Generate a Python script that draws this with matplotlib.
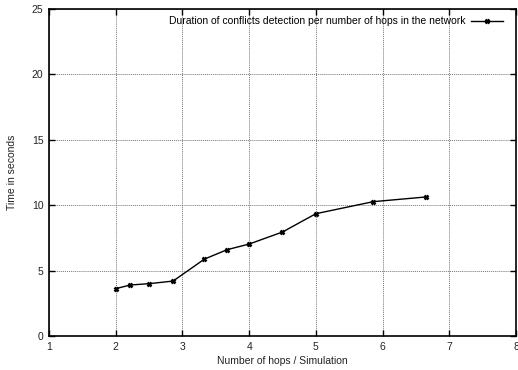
import matplotlib
matplotlib.use('Agg')
import matplotlib.pyplot as plt

# hops per simulation vs. conflict detection time
hops = [2.0, 2.22, 2.5, 2.86, 3.33, 3.67, 4.0, 4.5, 5.0, 5.86, 6.65]
seconds = [3.62, 3.9, 4.0, 4.2, 5.88, 6.6, 7.03, 7.95, 9.35, 10.27, 10.63]

xticks = [1, 2, 3, 4, 5, 6, 7, 8]
yticks = [0, 5, 10, 15, 20, 25]

plt.rcParams['font.family'] = ['Liberation Sans', 'DejaVu Sans']
plt.rcParams['font.size'] = 7.5

fig = plt.figure(figsize=(5.18, 3.70), dpi=100)
ax = fig.add_axes([49 / 518, 34 / 370, 467 / 518, 327 / 370])

ax.plot(hops, seconds, color='black', lw=1.0, marker='x', ms=3.5, mew=1.8,
        label='Duration of conflicts detection per number of hops in the network')

ax.set_xlim(1, 8)
ax.set_ylim(0, 25)
ax.set_xticks(xticks)
ax.set_yticks(yticks)
ax.tick_params(direction='in', top=True, right=True, length=4, width=1.0, pad=4,
               labelcolor='#222222')
ax.grid(True, color='#777777', linestyle=(0, (1, 1)), linewidth=0.7)
for s in ax.spines.values():
    s.set_linewidth(1.2)

ax.set_xlabel('Number of hops / Simulation', labelpad=3, color='#222222')
ax.set_ylabel('Time in seconds', labelpad=11, color='#222222')

leg = ax.legend(loc='upper right', bbox_to_anchor=(1 - 6 / 467, 1),
                frameon=False, markerfirst=False,
                handlelength=3.0, handletextpad=0.6, borderaxespad=0.3,
                fontsize=7.5)

fig.savefig('out.png', dpi=100)
